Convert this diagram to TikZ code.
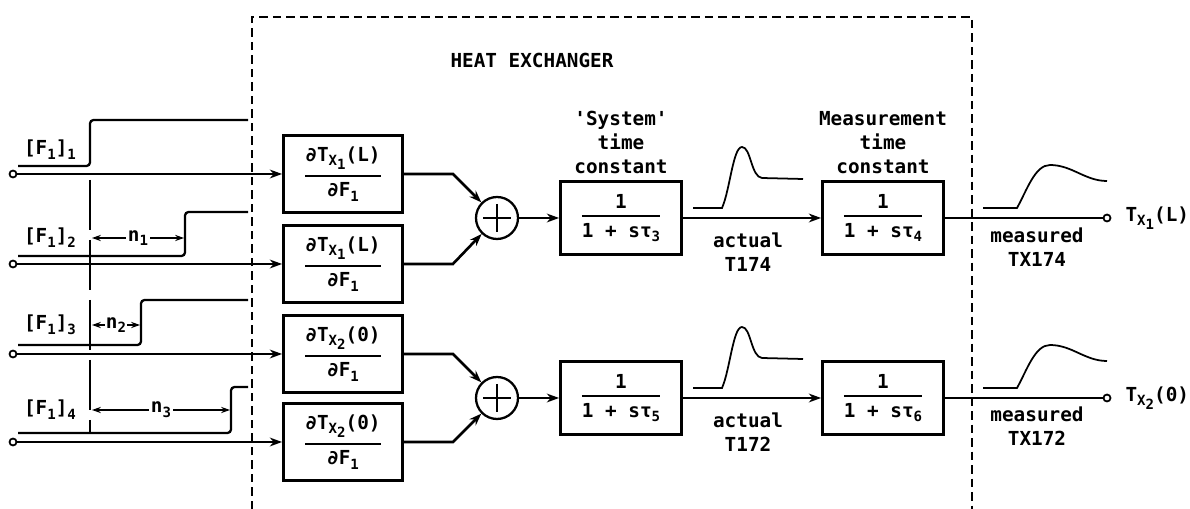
\documentclass[tikz,border=0pt]{standalone}
\usepackage{fontspec}
\setmainfont{DejaVu Sans Mono}
\usepackage{tikz}
\usetikzlibrary{arrows.meta}
\usetikzlibrary{calc, positioning}
\tikzstyle{block}=[rectangle, draw, line width=1.6pt, minimum width=2.38cm, minimum height=1.54cm, inner sep=0pt]
\tikzstyle{tfblock}=[rectangle, draw, line width=1.6pt, minimum width=2.42cm, minimum height=1.46cm, inner sep=0pt]
\tikzstyle{summer}=[circle, draw, line width=1.3pt, minimum size=0.84cm, inner sep=0pt]
\tikzstyle{port}=[circle, draw, line width=1pt, minimum size=0.14cm, inner sep=0pt, fill=white]
\tikzstyle{lbl}=[align=center, inner sep=0pt]
\tikzstyle{hxbound}=[line width=1.1pt, dash pattern=on 0.17cm off 0.1cm]
\tikzstyle{stepline}=[line width=1.3pt, rounded corners=2pt]
\tikzstyle{refline}=[line width=0.9pt, dash pattern=on 1cm off 0.2cm]
\tikzstyle{dimline}=[line width=0.9pt, {Stealth[length=5pt,width=3.5pt]}-{Stealth[length=5pt,width=3.5pt]}]
\tikzstyle{wave}=[line width=1pt]

\newcommand{\lowr}[1]{\raisebox{-0.45ex}{\fontsize{8pt}{8pt}\selectfont #1}}
\newcommand{\blockfrac}[2]{$\displaystyle{\mbox{#1}\above 1.1pt\mbox{#2}}$}

\begin{document}
\begin{tikzpicture}[x=0.02cm, y=-0.02cm]

\tikzset{>={Stealth[length=7pt, width=5pt]}}
\tikzset{every node/.style={font=\bfseries\fontsize{11pt}{13.6pt}\selectfont}}
\tikzset{every path/.style={line width=1.5pt}}

\useasboundingbox (0,0) rectangle (1190,509);

% Heat exchanger boundary
\draw[hxbound] (252,509) -- (252,17) -- (972,17) -- (972,509);
\node (hxtitle) at (532,60) {HEAT EXCHANGER};

% Sensitivity blocks
\node[block] (d1) at (343,174) {\blockfrac{∂T\lowr{X\lowr{1}}(L)}{∂F\lowr{1}}};
\node[block] (d2) at (343,264) {\blockfrac{∂T\lowr{X\lowr{1}}(L)}{∂F\lowr{1}}};
\node[block] (d3) at (343,354) {\blockfrac{∂T\lowr{X\lowr{2}}(0)}{∂F\lowr{1}}};
\node[block] (d4) at (343,442) {\blockfrac{∂T\lowr{X\lowr{2}}(0)}{∂F\lowr{1}}};

% Summing junctions
\node[summer] (s1) at (497,218) {};
\node[summer] (s2) at (497,398) {};
\foreach \sm in {s1,s2}
  \draw[line width=1.2pt] ($(\sm)+(-14,0)$) -- ($(\sm)+(14,0)$)
                          ($(\sm)+(0,-14)$) -- ($(\sm)+(0,14)$);

% System and measurement lags
\node[tfblock] (g1) at (621,218) {\blockfrac{1}{1 + sτ\lowr{3}}};
\node[tfblock] (g2) at (621,398) {\blockfrac{1}{1 + sτ\lowr{5}}};
\node[tfblock] (h1) at (883,218) {\blockfrac{1}{1 + sτ\lowr{4}}};
\node[tfblock] (h2) at (883,398) {\blockfrac{1}{1 + sτ\lowr{6}}};

\node[lbl, above=3pt of g1] (g1lbl) {\textquotesingle System\textquotesingle\\time\\constant};
\node[lbl, above=3pt of h1] (h1lbl) {Measurement\\time\\constant};

% Inputs
\foreach \k/\yy in {1/174, 2/264, 3/354, 4/442} {
  \node[port] (in\k) at (13,\yy) {};
  \draw[->] (in\k) -- (d\k);
}

% Outputs
\node[port] (o1) at (1107,218) {};
\node[port] (o2) at (1107,398) {};
\node[right=4pt of o1] (o1lbl) {T\lowr{X\lowr{1}}(L)};
\node[right=4pt of o2] (o2lbl) {T\lowr{X\lowr{2}}(0)};

% Arrows through the exchanger
\draw[->] (d1.east) -- ++(49,0) -- (s1); % d1 -> s1
\draw[->] (d2.east) -- ++(49,0) -- (s1); % d2 -> s1
\draw[->] (d3.east) -- ++(49,0) -- (s2); % d3 -> s2
\draw[->] (d4.east) -- ++(49,0) -- (s2); % d4 -> s2
\draw[->] (s1) -- (g1);
\draw[->] (s2) -- (g2);
\draw[->] (g1) -- (h1);
\draw[->] (g2) -- (h2);
\draw (h1) -- (o1);
\draw (h2) -- (o2);

% Responses
\foreach \dy in {0,180} {
  \draw[wave, shift={(0,\dy)}] (693,208) -- (722,208)
    .. controls (730,190) and (733,147) .. (742,147)
    .. controls (751,147) and (751,177) .. (762,178) -- (803,179);
  \draw[wave, shift={(0,\dy)}] (983,208) -- (1017,208)
    .. controls (1027,190) and (1035,165) .. (1050,165)
    .. controls (1072,165) and (1085,181) .. (1107,181);
}
\node[lbl] (act1) at (748,252) {actual\\T174};
\node[lbl] (act2) at (748,432) {actual\\T172};
\node[lbl] (meas1) at (1037,247) {measured\\TX174};
\node[lbl] (meas2) at (1037,426) {measured\\TX172};

% Step inputs with delays
\draw[stepline] (18,166) -- (90,166) -- (90,120) -- (248,120);
\draw[stepline] (18,256) -- (185,256) -- (185,212) -- (248,212);
\draw[stepline] (18,345) -- (141,345) -- (141,300) -- (248,300);
\draw[stepline] (18,433) -- (231,433) -- (231,387) -- (248,387);
\node[lbl] (f1) at (50,150) {[F\lowr{1}]\lowr{1}};
\node[lbl] (f2) at (50,238) {[F\lowr{1}]\lowr{2}};
\node[lbl] (f3) at (50,325) {[F\lowr{1}]\lowr{3}};
\node[lbl] (f4) at (50,410) {[F\lowr{1}]\lowr{4}};

\draw[refline] (90,180) -- (90,432);
\draw[dimline] (92,238) -- (184,238) node[midway, fill=white, inner sep=1pt] (n1) {n\lowr{1}};
\draw[dimline] (92,325) -- (140,325) node[midway, fill=white, inner sep=0.5pt] (n2) {n\lowr{2}};
\draw[dimline] (92,410) -- (230,410) node[midway, fill=white, inner sep=1pt] (n3) {n\lowr{3}};

\end{tikzpicture}
\end{document}
